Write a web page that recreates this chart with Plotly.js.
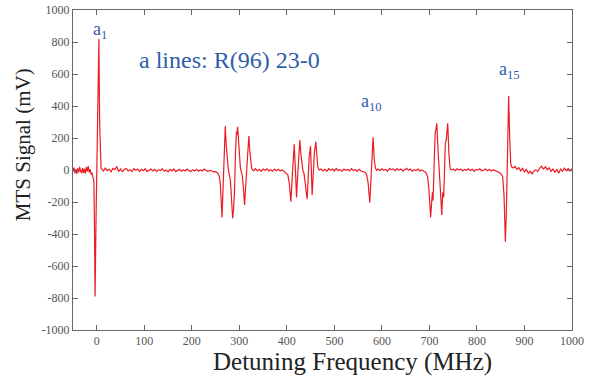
<!DOCTYPE html>
<html>
<head>
<meta charset="utf-8">
<script src="https://cdn.plot.ly/plotly-3.0.1.min.js"></script>
<style>html,body{margin:0;padding:0;background:#fff;}#chart{width:597px;height:380px;}</style>
</head>
<body>
<div id="chart"></div>
<script>
// Detuning frequency (MHz) and MTS signal (mV)
const freqMHz = [
  // left baseline
  -50,-48,-46,-44,-42,-40,-38,-36,-34,-32,-30,-28,-26,-24,-22,-20,-18,-16,-14,-12,-10,
  // a1
  -8,-6,-5,-3.5,-1.5,0.5,2.5,4.5,6,7.5,9,
  // baseline
  10,14,18,22,26,30,34,38,42,46,50,54,58,62,66,70,74,78,82,86,90,94,98,102,106,110,114,118,122,126,
  130,134,138,142,146,150,154,158,162,166,170,174,178,182,186,190,194,198,202,206,210,214,218,222,226,230,234,238,242,246,
  250,254,258,
  // group 2
  260,263.6,266,268,270.4,272.5,275,277,279,281,283,285.9,288,290,292,294,295,296.5,298,300,302,304,306,308,311,313,315,317,320,322,324,326,328,
  // baseline
  330,334,338,342,346,350,354,358,362,366,370,374,378,382,386,390,394,398,402,
  // group 3
  405,408.5,411,413,415.5,418,420.4,423,425,427.3,429.5,432,434,436,438,440,442.7,445,447,449.8,451.5,453.2,455.5,458,461,463,465,468,
  // baseline
  472,476,480,484,488,492,496,500,504,508,512,516,520,524,528,532,536,540,544,548,552,556,560,564,568,
  // a10
  571,574.5,577,579,581.5,584,586.5,589,
  // baseline
  592,596,600,604,608,612,616,620,624,628,632,636,640,644,648,652,656,660,664,668,672,676,680,684,688,692,696,
  // group 5
  699,702.5,704.5,706.3,707.6,710,712,713.5,715.5,718,721,723,725.9,728,730,731.5,733.5,735.5,738.5,741,743.5,746,
  // baseline
  750,754,758,762,766,770,774,778,782,786,790,794,798,802,806,810,814,818,822,826,830,834,838,842,846,850,
  // a15
  854,857,859.8,862,864,866.7,869,871,873,
  // right baseline
  876,880,884,888,892,896,900,904,908,912,916,920,924,928,932,936,940,944,948,952,956,960,964,968,972,976,980,984,988,992,996,1000
];
const signalmV = [
  -10,15,-20,5,-25,10,-15,20,-5,-20,12,-18,8,-22,18,-8,25,-15,5,-25,-20,
  -45,-70,-300,-790,-300,100,500,820,300,40,10,
  8,-6,12,-4,6,-12,10,2,22,-8,6,-10,4,10,-6,2,-10,8,-2,6,-8,4,-4,8,-10,0,6,-6,4,-10,
  2,-4,8,-8,0,-12,4,-6,6,-10,-2,4,-8,2,-6,6,-4,-10,2,-6,4,-8,0,-6,6,-4,-10,-2,-8,-12,
  -10,-18,-40,
  -90,-296,-80,120,275,150,40,0,-30,-60,-150,-302,-240,-120,120,240,220,270,180,80,20,-10,-30,-90,-218,-120,0,120,212,120,40,10,0,
  -4,8,-6,4,-8,6,-2,8,-6,2,-8,6,-4,4,-6,2,-8,-14,-30,
  -80,-198,-60,80,160,0,-171,-20,120,187,100,30,-10,-20,-60,-120,-183,-40,80,150,-20,-156,-30,110,177,90,20,0,
  6,-6,4,-8,8,-2,6,-6,10,-4,2,-8,6,-2,4,-6,8,-4,2,-8,4,-6,-10,-14,-30,
  -80,-204,-60,100,204,60,10,-2,
  6,-4,8,-2,4,-8,10,2,6,-4,8,0,6,-6,4,10,-2,6,-8,2,-4,6,-6,0,-8,-14,-40,
  -120,-296,-180,-140,-190,60,230,250,292,130,0,-120,-281,-140,-170,-60,170,190,292,100,10,0,
  6,-4,8,0,6,-6,4,-2,8,-4,6,-8,4,0,8,-6,2,6,-4,4,-6,2,-4,-8,-14,-22,
  -40,-160,-448,-250,100,462,200,40,20,
  12,22,4,14,-6,10,-12,4,-20,-8,-24,-6,2,-10,12,24,6,20,2,14,-10,8,-16,4,-20,6,-8,12,-4,10,-6,8
];
const xTicks = [0,100,200,300,400,500,600,700,800,900,1000];
const yTicks = [-1000,-800,-600,-400,-200,0,200,400,600,800,1000];
const labels = [
  {text:'a<sub>1</sub>', x:7, y:875},
  {text:'a lines: R(96) 23-0', x:280, y:688, big:true},
  {text:'a<sub>10</sub>', x:579, y:419},
  {text:'a<sub>15</sub>', x:869, y:619}
];

const blue = '#2f5ea8';
const serif = 'Times New Roman, Liberation Serif, Tinos, DejaVu Serif, serif';
const axisCommon = {
  showline:true, linecolor:'#666', linewidth:1, mirror:'ticks',
  ticks:'inside', ticklen:5, tickcolor:'#666', tickwidth:1,
  showgrid:false, zeroline:false,
  tickfont:{family:serif, size:12, color:'#555'}
};

const trace = {
  x: freqMHz, y: signalmV, type:'scatter', mode:'lines',
  line:{color:'#ec1c24', width:1.2}, hoverinfo:'skip'
};

const anns = labels.map(l => ({
  text:l.text, x:l.x, y:l.y, xref:'x', yref:'y', showarrow:false,
  font:{family:serif, size: l.big ? 24 : 18, color:blue}
}));
anns.push({text:'Detuning Frequency (MHz)', xref:'paper', yref:'paper', x:0.56, y:-0.05,
  xanchor:'center', yanchor:'top', showarrow:false,
  font:{family:serif, size:25, color:'#222'}});
anns.push({text:'MTS Signal (mV)', xref:'paper', yref:'paper', x:-0.1, y:0.578,
  xanchor:'center', yanchor:'middle', textangle:-90, showarrow:false,
  font:{family:serif, size:21, color:'#222'}});

const layout = {
  width:597, height:380,
  margin:{l:73, r:25, t:10, b:50},
  paper_bgcolor:'#fff', plot_bgcolor:'#fff',
  font:{family:serif},
  showlegend:false,
  xaxis:Object.assign({}, axisCommon, {range:[-50,1000], tickvals:xTicks, ticktext:xTicks.map(String)}),
  yaxis:Object.assign({}, axisCommon, {range:[-1000,1000], tickvals:yTicks, ticktext:yTicks.map(String)}),
  annotations:anns
};

Plotly.newPlot('chart', [trace], layout, {staticPlot:true, displayModeBar:false});
</script>
</body>
</html>
